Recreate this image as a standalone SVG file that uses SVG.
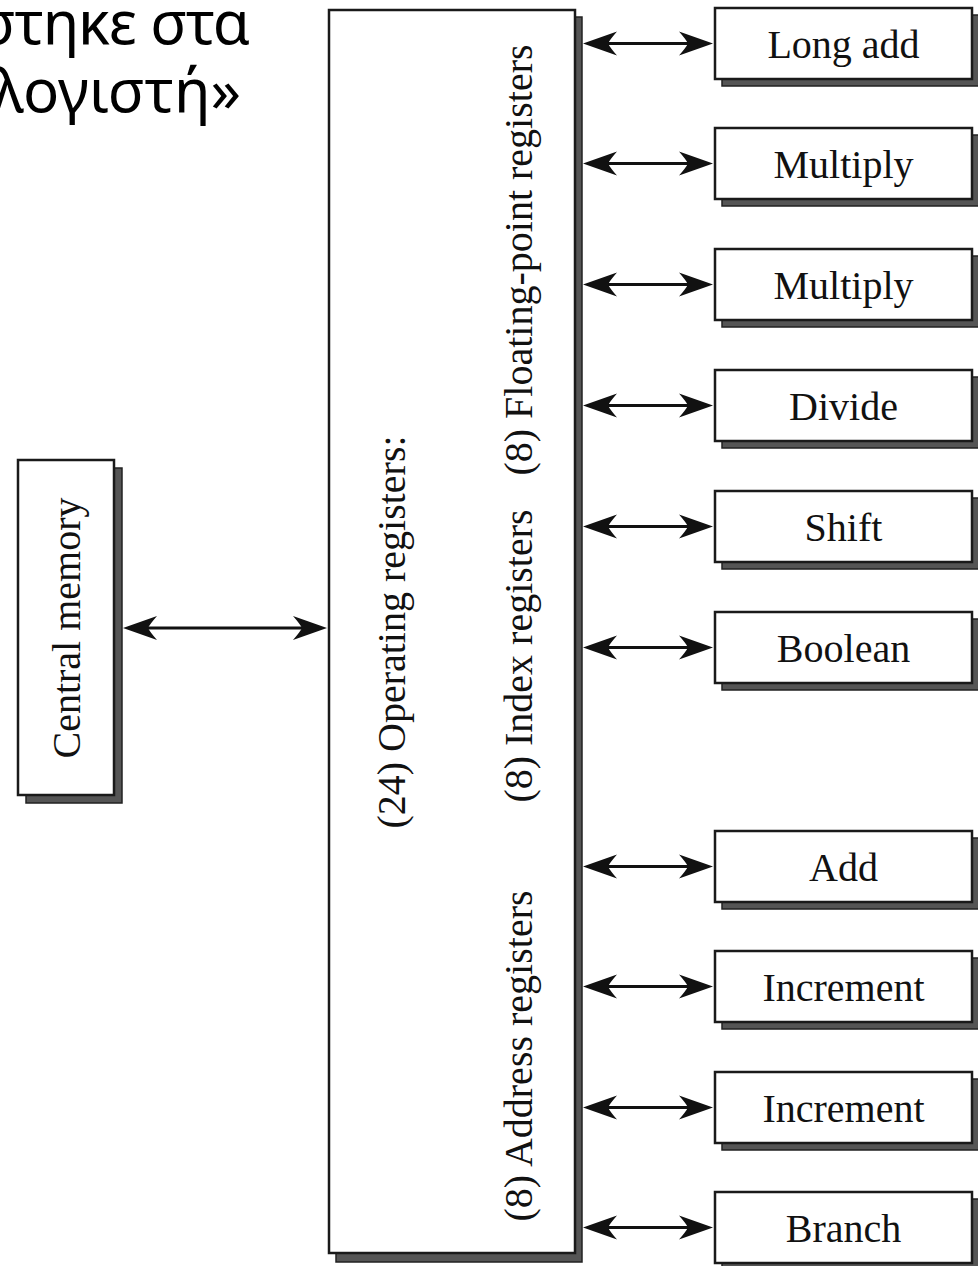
<svg xmlns="http://www.w3.org/2000/svg" width="978" height="1266" viewBox="0 0 978 1266">
<style>
.box{fill:#fff;stroke:#1a1a1a;stroke-width:2.5}
.shadow{fill:#555;stroke:#222;stroke-width:1.5}
.lbl{font-family:"Liberation Serif","Times New Roman",serif;font-size:40px;fill:#111}
.greek{font-family:"Noto Sans","Open Sans",sans-serif;font-size:60px;fill:#000}
.conn{stroke:#111;stroke-width:3;fill:none;marker-start:url(#ah);marker-end:url(#ah)}
</style>
<defs>
<marker id="ah" markerUnits="userSpaceOnUse" viewBox="-35 -13 37 26" refX="-6" refY="0" markerWidth="37" markerHeight="26" orient="auto-start-reverse">
<path d="M0,0 L-34,-12 Q-27,-4 -25,0 Q-27,4 -34,12 Z" fill="#111"/>
</marker>
</defs>
<rect width="978" height="1266" fill="#fff"/>
<g id="title">
<text class="greek" x="249" y="44" text-anchor="end" letter-spacing="-1.2">στηκε στα</text>
<text class="greek" x="241" y="112" text-anchor="end">ολογιστή»</text>
</g>
<g id="central-memory">
<rect class="shadow" x="26" y="468" width="96" height="335"/>
<rect class="box" x="18" y="460" width="96" height="335"/>
<text class="lbl" transform="translate(80,628) rotate(-90)" text-anchor="middle">Central memory</text>
</g>
<g id="registers">
<rect class="shadow" x="336" y="17" width="246" height="1245"/>
<rect class="box" x="329" y="10" width="246" height="1243"/>
<text class="lbl" transform="translate(405,632) rotate(-90)" text-anchor="middle">(24) Operating registers:</text>
<text class="lbl" transform="translate(532,260) rotate(-90)" text-anchor="middle">(8) Floating-point registers</text>
<text class="lbl" transform="translate(532,656) rotate(-90)" text-anchor="middle">(8) Index registers</text>
<text class="lbl" transform="translate(532,1056) rotate(-90)" text-anchor="middle">(8) Address registers</text>
</g>
<g id="unit-long-add"><rect class="shadow" x="722" y="15" width="257" height="71"/><rect class="box" x="715" y="8" width="257" height="71"/><text class="lbl" x="843.5" y="58" text-anchor="middle">Long add</text></g>
<g id="unit-multiply-1"><rect class="shadow" x="722" y="135" width="257" height="71"/><rect class="box" x="715" y="128" width="257" height="71"/><text class="lbl" x="843.5" y="178" text-anchor="middle">Multiply</text></g>
<g id="unit-multiply-2"><rect class="shadow" x="722" y="256" width="257" height="71"/><rect class="box" x="715" y="249" width="257" height="71"/><text class="lbl" x="843.5" y="299" text-anchor="middle">Multiply</text></g>
<g id="unit-divide"><rect class="shadow" x="722" y="377" width="257" height="71"/><rect class="box" x="715" y="370" width="257" height="71"/><text class="lbl" x="843.5" y="420" text-anchor="middle">Divide</text></g>
<g id="unit-shift"><rect class="shadow" x="722" y="498" width="257" height="71"/><rect class="box" x="715" y="491" width="257" height="71"/><text class="lbl" x="843.5" y="541" text-anchor="middle">Shift</text></g>
<g id="unit-boolean"><rect class="shadow" x="722" y="619" width="257" height="71"/><rect class="box" x="715" y="612" width="257" height="71"/><text class="lbl" x="843.5" y="662" text-anchor="middle">Boolean</text></g>
<g id="unit-add"><rect class="shadow" x="722" y="838" width="257" height="71"/><rect class="box" x="715" y="831" width="257" height="71"/><text class="lbl" x="843.5" y="881" text-anchor="middle">Add</text></g>
<g id="unit-increment-1"><rect class="shadow" x="722" y="958" width="257" height="71"/><rect class="box" x="715" y="951" width="257" height="71"/><text class="lbl" x="843.5" y="1001" text-anchor="middle">Increment</text></g>
<g id="unit-increment-2"><rect class="shadow" x="722" y="1079" width="257" height="71"/><rect class="box" x="715" y="1072" width="257" height="71"/><text class="lbl" x="843.5" y="1122" text-anchor="middle">Increment</text></g>
<g id="unit-branch"><rect class="shadow" x="722" y="1199" width="257" height="71"/><rect class="box" x="715" y="1192" width="257" height="71"/><text class="lbl" x="843.5" y="1242" text-anchor="middle">Branch</text></g>
<g id="connectors">
<line class="conn" x1="129" y1="628" x2="321" y2="628"/>
<line class="conn" x1="589" y1="43.5" x2="707" y2="43.5"/>
<line class="conn" x1="589" y1="163.5" x2="707" y2="163.5"/>
<line class="conn" x1="589" y1="284.5" x2="707" y2="284.5"/>
<line class="conn" x1="589" y1="405.5" x2="707" y2="405.5"/>
<line class="conn" x1="589" y1="526.5" x2="707" y2="526.5"/>
<line class="conn" x1="589" y1="647.5" x2="707" y2="647.5"/>
<line class="conn" x1="589" y1="866.5" x2="707" y2="866.5"/>
<line class="conn" x1="589" y1="986.5" x2="707" y2="986.5"/>
<line class="conn" x1="589" y1="1107.5" x2="707" y2="1107.5"/>
<line class="conn" x1="589" y1="1227.5" x2="707" y2="1227.5"/>
</g>
</svg>
